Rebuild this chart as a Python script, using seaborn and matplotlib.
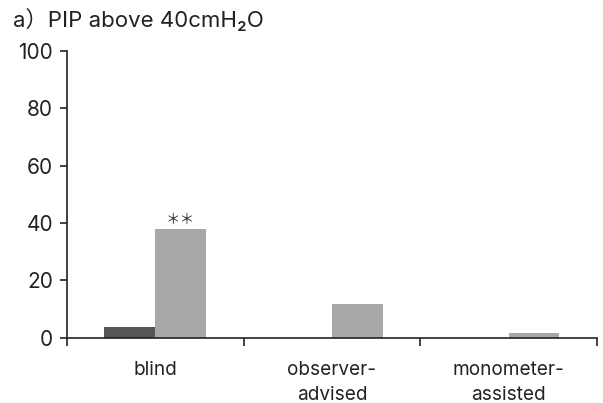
import matplotlib
matplotlib.use("Agg")
import matplotlib.pyplot as plt
import seaborn as sns
import pandas as pd

categories = ["blind", "observer-\nadvised", "monometer-\nassisted"]
groups = ["group A", "group B"]
values_a = [3.7, 0, 0]
values_b = [38, 11.8, 1.5]
yticks = [0, 20, 40, 60, 80, 100]
title = "a\uff09PIP above 40cmH\u2082O"
annotation = "\uff0a\uff0a"

sns.set_style("ticks")
plt.rcParams['font.family'] = ['Inter', 'Noto Sans CJK JP', 'DejaVu Sans']

df = pd.DataFrame({
    "category": categories * 2,
    "group": [groups[0]] * 3 + [groups[1]] * 3,
    "value": values_a + values_b,
})

fig = plt.figure(figsize=(6.03, 4.03), dpi=100)
ax = fig.add_axes([0.111, 0.162, 0.879, 0.712])
sns.barplot(data=df, x="category", y="value", hue="group",
            palette=["#555555", "#a8a8a8"], width=0.575, saturation=1,
            legend=False, ax=ax, order=categories)
for p in ax.patches:
    p.set_edgecolor("none")

ax.set_xlim(-0.5, 2.5)
ax.set_ylim(0, 100)
ax.set_yticks(yticks)
ax.set_yticklabels([str(t) for t in yticks], fontsize=15, color="#222222")
ax.set_xticks(range(len(categories)))
ax.set_xticklabels(categories, fontsize=13.7, color="#222222", linespacing=1.5)
ax.tick_params(axis="x", which="major", length=0, pad=17)
ax.set_xticks([-0.5, 0.5, 1.5, 2.5], minor=True)
ax.tick_params(axis="x", which="minor", length=6, width=1.2, color="#222222")
ax.tick_params(axis="y", length=5, width=1.2, color="#222222", pad=5)
ax.set_xlabel("")
ax.set_ylabel("")
sns.despine(ax=ax)
for s in ["left", "bottom"]:
    ax.spines[s].set_linewidth(1.2)
    ax.spines[s].set_color("#222222")

# annotation above the second bar of the first category
bar_b = [p for p in ax.patches if abs(p.get_height() - values_b[0]) < 1e-9][0]
ax.text(bar_b.get_x() + bar_b.get_width() / 2, values_b[0] + 0.6, annotation,
        ha="center", va="bottom", fontsize=10.5, color="#333333")

fig.text(0.022, 0.952, title, fontsize=16, color="#222222", va="center", ha="left")

fig.savefig("out.png", dpi=100)
